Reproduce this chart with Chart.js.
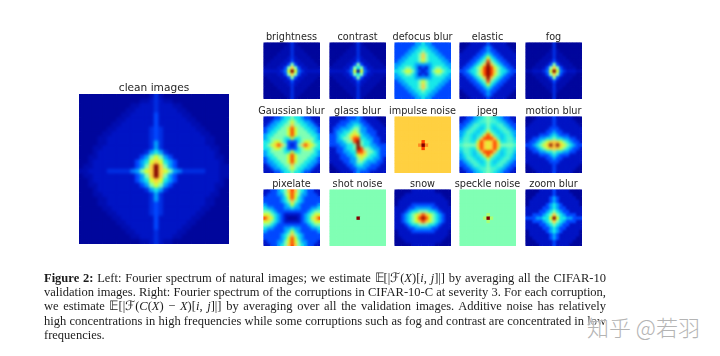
<!DOCTYPE html>
<html>
<head>
<meta charset="utf-8">
<script src="https://cdn.jsdelivr.net/npm/chart.js@4"></script>
<style>
  html, body { margin: 0; padding: 0; background: #fff; }
  #page { position: relative; width: 720px; height: 356px; overflow: hidden; }
  canvas { position: absolute; }
  .line { position: absolute; left: 44px; width: 562px; white-space: nowrap; font: 12.5px/14px "Liberation Serif", serif; color: #1c1c1c; text-align: justify; text-align-last: justify; filter: blur(0.3px); }
  .line.last { text-align-last: left; }
  #mark { position: absolute; left: 587px; top: 313px; font: 300 22px/26px "Noto Sans CJK SC", sans-serif; color: #b4b4b4; white-space: nowrap; text-shadow: 0 0 2px #fff, 0 0 2px #fff; }
</style>
</head>
<body>
<div id="page">
  <div class="line" style="top:271px"><b>Figure 2:</b> Left: Fourier spectrum of natural images; we estimate 𝔼[|ℱ(<i>X</i>)[<i>i</i>, <i>j</i>]|] by averaging all the CIFAR-10</div>
  <div class="line" style="top:285px">validation images. Right: Fourier spectrum of the corruptions in CIFAR-10-C at severity 3. For each corruption,</div>
  <div class="line" style="top:299px">we estimate 𝔼[|ℱ(<i>C</i>(<i>X</i>) − <i>X</i>)[<i>i</i>, <i>j</i>]|] by averaging over all the validation images. Additive noise has relatively</div>
  <div class="line" style="top:314px">high concentrations in high frequencies while some corruptions such as fog and contrast are concentrated in low</div>
  <div class="line last" style="top:328px">frequencies.</div>
  <div id="mark">知乎 @若羽</div>
</div>
<script>
// colour at each whole level 0-9 (jet-like), in-between values are mixed
const levelColors = [[0,6,156],[0,20,196],[0,72,255],[0,160,255],[24,232,232],[128,255,180],[216,255,48],[255,208,64],[255,64,0],[128,0,0]];

const clean = [
[0,0,0,0,0,0,0,0,0,0,0,0,0,0,0,.5,1.5,.5,0,0,0,0,0,0,0,0,0,0,0,0,0,0],
[0,0,0,0,0,0,0,0,0,0,0,0,0,.5,.5,1,1.5,1,.5,.5,0,0,0,0,0,0,0,0,0,0,0,0],
[0,0,0,0,0,0,0,0,0,0,0,.5,.5,1,1,1,1.5,1,1,1,.5,.5,0,0,0,0,0,0,0,0,0,0],
[0,0,0,0,0,0,0,0,0,0,.5,.5,1,1,1,1,1.5,1,1,1,1,.5,.5,0,0,0,0,0,0,0,0,0],
[0,0,0,0,0,0,0,0,0,.5,.5,1,1,1,1,1,2,1,1,1,1,1,.5,.5,0,0,0,0,0,0,0,0],
[0,0,0,0,0,0,0,0,.5,.5,1,1,1,1,1,1,2,1,1,1,1,1,1,.5,.5,0,0,0,0,0,0,0],
[0,0,0,0,0,0,0,.5,.5,1,1,1,1,1,1,1,2,1,1,1,1,1,1,1,.5,.5,0,0,0,0,0,0],
[0,0,0,0,0,0,.5,.5,1,1,1,1,1,1,1,1.5,2,1.5,1,1,1,1,1,1,1,.5,.5,0,0,0,0,0],
[0,0,0,0,0,.5,.5,1,1,1,1,1,1,1,1,1.5,2,1.5,1,1,1,1,1,1,1,1,.5,.5,0,0,0,0],
[0,0,0,0,.5,.5,1,1,1,1,1,1,1,1,1,1.5,2,1.5,1,1,1,1,1,1,1,1,1,.5,.5,0,0,0],
[0,0,0,0,.5,.5,1,1,1,1,1,1,1,1,1,1.5,3,1.5,1,1,1,1,1,1,1,1,1,.5,.5,0,0,0],
[0,0,0,.5,.5,1,1,1,1,1,1,1,1,1,1,1.5,3,1.5,1,1,1,1,1,1,1,1,1,1,.5,.5,0,0],
[0,0,0,.5,1,1,1,1,1,1,1,1,1,1,1.5,3,4,3,1.5,1,1,1,1,1,1,1,1,1,1,.5,0,0],
[0,0,.5,.5,1,1,1,1,1,1,1,1,1,2,3,5,6,5,3,2,1,1,1,1,1,1,1,1,1,.5,.5,0],
[0,0,.5,1,1,1,1,1,1,1,1,1,2,3,4,6,7,6,4,3,2,1,1,1,1,1,1,1,1,1,.5,0],
[0,.5,.5,1,1,1,1,1,1,1,1,1,2,3,5,7,9,7,5,3,2,1,1,1,1,1,1,1,1,1,.5,.5],
[.5,.5,1,1,1,1,1.5,1.5,1.5,1.5,1.5,2.5,3,5,6,7,9,7,6,5,3,2.5,1.5,1.5,1.5,1.5,1.5,1,1,1,.5,.5],
[0,.5,.5,1,1,1,1,1,1,1,1,1,2,3,5,7,9,7,5,3,2,1,1,1,1,1,1,1,1,1,.5,.5],
[0,0,.5,1,1,1,1,1,1,1,1,1,2,3,4,6,7,6,4,3,2,1,1,1,1,1,1,1,1,1,.5,0],
[0,0,.5,.5,1,1,1,1,1,1,1,1,1,2,3,5,6,5,3,2,1,1,1,1,1,1,1,1,1,.5,.5,0],
[0,0,0,.5,1,1,1,1,1,1,1,1,1,1,1.5,3,4,3,1.5,1,1,1,1,1,1,1,1,1,1,.5,0,0],
[0,0,0,.5,.5,1,1,1,1,1,1,1,1,1,1,1.5,3,1.5,1,1,1,1,1,1,1,1,1,1,.5,.5,0,0],
[0,0,0,0,.5,.5,1,1,1,1,1,1,1,1,1,1.5,3,1.5,1,1,1,1,1,1,1,1,1,.5,.5,0,0,0],
[0,0,0,0,.5,.5,1,1,1,1,1,1,1,1,1,1.5,2,1.5,1,1,1,1,1,1,1,1,1,.5,.5,0,0,0],
[0,0,0,0,0,.5,.5,1,1,1,1,1,1,1,1,1.5,2,1.5,1,1,1,1,1,1,1,1,.5,.5,0,0,0,0],
[0,0,0,0,0,0,.5,.5,1,1,1,1,1,1,1,1.5,2,1.5,1,1,1,1,1,1,1,.5,.5,0,0,0,0,0],
[0,0,0,0,0,0,0,.5,.5,1,1,1,1,1,1,1,2,1,1,1,1,1,1,1,.5,.5,0,0,0,0,0,0],
[0,0,0,0,0,0,0,0,.5,.5,1,1,1,1,1,1,2,1,1,1,1,1,1,.5,.5,0,0,0,0,0,0,0],
[0,0,0,0,0,0,0,0,0,.5,.5,1,1,1,1,1,2,1,1,1,1,1,.5,.5,0,0,0,0,0,0,0,0],
[0,0,0,0,0,0,0,0,0,0,.5,.5,1,1,1,1,1.5,1,1,1,1,.5,.5,0,0,0,0,0,0,0,0,0],
[0,0,0,0,0,0,0,0,0,0,0,.5,.5,1,1,1,1.5,1,1,1,.5,.5,0,0,0,0,0,0,0,0,0,0],
[0,0,0,0,0,0,0,0,0,0,0,0,0,.5,.5,1,1.5,1,.5,.5,0,0,0,0,0,0,0,0,0,0,0,0]];

const brightness = [
[0,0,0,0,0,0,0,.5,1.5,.5,0,0,0,0,0,0,0],
[0,0,0,0,0,0,.5,.5,1.5,.5,.5,0,0,0,0,0,0],
[0,0,0,0,0,.5,.5,.5,1.5,.5,.5,.5,0,0,0,0,0],
[0,0,0,0,.5,.5,.5,.5,1.5,.5,.5,.5,.5,0,0,0,0],
[0,0,0,.5,.5,.5,.5,1,1.5,1,.5,.5,.5,.5,0,0,0],
[0,0,.5,.5,.5,.5,1,1,2,1,1,.5,.5,.5,.5,0,0],
[0,.5,.5,.5,.5,1,1,2,5,2,1,1,.5,.5,.5,.5,0],
[.5,.5,.5,.5,1,1,2,5,7,5,2,1,1,.5,.5,.5,.5],
[1,1,1,1,1,1.5,2.5,6,9,6,2.5,1.5,1,1,1,1,1],
[.5,.5,.5,.5,1,1,2,5,7,5,2,1,1,.5,.5,.5,.5],
[0,.5,.5,.5,.5,1,1,2,5,2,1,1,.5,.5,.5,.5,0],
[0,0,.5,.5,.5,.5,1,1,2,1,1,.5,.5,.5,.5,0,0],
[0,0,0,.5,.5,.5,.5,1,1.5,1,.5,.5,.5,.5,0,0,0],
[0,0,0,0,.5,.5,.5,.5,1.5,.5,.5,.5,.5,0,0,0,0],
[0,0,0,0,0,.5,.5,.5,1.5,.5,.5,.5,0,0,0,0,0],
[0,0,0,0,0,0,.5,.5,1.5,.5,.5,0,0,0,0,0,0],
[0,0,0,0,0,0,0,.5,1.5,.5,0,0,0,0,0,0,0]];

const contrast = [
[0,0,0,0,0,0,0,.5,1.5,.5,0,0,0,0,0,0,0],
[0,0,0,0,0,0,.5,.5,1.5,.5,.5,0,0,0,0,0,0],
[0,0,0,0,0,.5,.5,.5,1.5,.5,.5,.5,0,0,0,0,0],
[0,0,0,0,.5,.5,.5,.5,1.5,.5,.5,.5,.5,0,0,0,0],
[0,0,0,.5,.5,.5,.5,1,1.5,1,.5,.5,.5,.5,0,0,0],
[0,0,.5,.5,.5,.5,1,1,2,1,1,.5,.5,.5,.5,0,0],
[0,.5,.5,.5,.5,1,1,2,5,2,1,1,.5,.5,.5,.5,0],
[.5,.5,.5,.5,1,1,2,5,4,5,2,1,1,.5,.5,.5,.5],
[1,1,1,1,1,1.5,2.5,6,0,6,2.5,1.5,1,1,1,1,1],
[.5,.5,.5,.5,1,1,2,5,4,5,2,1,1,.5,.5,.5,.5],
[0,.5,.5,.5,.5,1,1,2,5,2,1,1,.5,.5,.5,.5,0],
[0,0,.5,.5,.5,.5,1,1,2,1,1,.5,.5,.5,.5,0,0],
[0,0,0,.5,.5,.5,.5,1,1.5,1,.5,.5,.5,.5,0,0,0],
[0,0,0,0,.5,.5,.5,.5,1.5,.5,.5,.5,.5,0,0,0,0],
[0,0,0,0,0,.5,.5,.5,1.5,.5,.5,.5,0,0,0,0,0],
[0,0,0,0,0,0,.5,.5,1.5,.5,.5,0,0,0,0,0,0],
[0,0,0,0,0,0,0,.5,1.5,.5,0,0,0,0,0,0,0]];

const defocus = [
[2,2,2,2,2,2,3,3,4,3,3,2,2,2,2,2,2],
[2,2,2,2,2,3,3,4,4,4,3,3,2,2,2,2,2],
[2,2,2,2,3,3,4,4,5,4,4,3,3,2,2,2,2],
[2,2,2,3,3,4,4,5,7,5,4,4,3,3,2,2,2],
[2,2,3,3,4,4,4,5,7,5,4,4,4,3,3,2,2],
[2,3,3,4,4,4,4,5,6,5,4,4,4,4,3,3,2],
[3,3,4,4,4,4,3,3,3,3,3,4,4,4,4,3,3],
[3,4,4,5,5,4,3,1,2,1,3,4,5,5,4,4,3],
[4,4,5,6,6,5,3,2,1,2,3,5,6,6,5,4,4],
[3,4,4,5,5,4,3,1,2,1,3,4,5,5,4,4,3],
[3,3,4,4,4,4,3,3,3,3,3,4,4,4,4,3,3],
[2,3,3,4,4,4,4,5,6,5,4,4,4,4,3,3,2],
[2,2,3,3,4,4,4,5,7,5,4,4,4,3,3,2,2],
[2,2,2,3,3,4,4,5,7,5,4,4,3,3,2,2,2],
[2,2,2,2,3,3,4,4,5,4,4,3,3,2,2,2,2],
[2,2,2,2,2,3,3,4,4,4,3,3,2,2,2,2,2],
[2,2,2,2,2,2,3,3,4,3,3,2,2,2,2,2,2]];

const elastic = [
[0,0,0,1,1,1,1,1,2,1,1,1,1,1,0,0,0],
[0,0,1,1,1,1,1,2,3,2,1,1,1,1,1,0,0],
[0,1,1,1,1,1,2,2,3,2,2,1,1,1,1,1,0],
[1,1,1,1,1,2,2,3,4,3,2,2,1,1,1,1,1],
[1,1,1,1,2,2,3,4,6,4,3,2,2,1,1,1,1],
[1,1,1,2,2,3,4,5,8,5,4,3,2,2,1,1,1],
[1,1,2,2,3,4,5,7,9,7,5,4,3,2,2,1,1],
[1,2,2,3,4,5,6,8,9,8,6,5,4,3,2,2,1],
[2,2,3,4,4,5,7,8,9,8,7,5,4,4,3,2,2],
[1,2,2,3,4,5,6,8,9,8,6,5,4,3,2,2,1],
[1,1,2,2,3,4,5,7,9,7,5,4,3,2,2,1,1],
[1,1,1,2,2,3,4,5,8,5,4,3,2,2,1,1,1],
[1,1,1,1,2,2,3,4,6,4,3,2,2,1,1,1,1],
[1,1,1,1,1,2,2,3,4,3,2,2,1,1,1,1,1],
[0,1,1,1,1,1,2,2,3,2,2,1,1,1,1,1,0],
[0,0,1,1,1,1,1,2,3,2,1,1,1,1,1,0,0],
[0,0,0,1,1,1,1,1,2,1,1,1,1,1,0,0,0]];

const fog = [
[0,0,0,0,0,0,0,0,1.5,0,0,0,0,0,0,0,0],
[0,0,0,0,0,0,0,0,1.5,0,0,0,0,0,0,0,0],
[0,0,0,0,0,0,0,.5,1.5,.5,0,0,0,0,0,0,0],
[0,0,0,0,0,0,.5,.5,1.5,.5,.5,0,0,0,0,0,0],
[0,0,0,0,0,.5,.5,.5,1.5,.5,.5,.5,0,0,0,0,0],
[0,0,0,0,.5,.5,.5,1,2,1,.5,.5,.5,0,0,0,0],
[0,0,0,.5,.5,.5,1,2,5,2,1,.5,.5,.5,0,0,0],
[0,0,.5,.5,.5,1,2,5,7,5,2,1,.5,.5,.5,0,0],
[.5,.5,1,1,1,1.5,2.5,6,9,6,2.5,1.5,1,1,1,.5,.5],
[0,0,.5,.5,.5,1,2,5,7,5,2,1,.5,.5,.5,0,0],
[0,0,0,.5,.5,.5,1,2,5,2,1,.5,.5,.5,0,0,0],
[0,0,0,0,.5,.5,.5,1,2,1,.5,.5,.5,0,0,0,0],
[0,0,0,0,0,.5,.5,.5,1.5,.5,.5,.5,0,0,0,0,0],
[0,0,0,0,0,0,.5,.5,1.5,.5,.5,0,0,0,0,0,0],
[0,0,0,0,0,0,0,.5,1.5,.5,0,0,0,0,0,0,0],
[0,0,0,0,0,0,0,0,1.5,0,0,0,0,0,0,0,0],
[0,0,0,0,0,0,0,0,1.5,0,0,0,0,0,0,0,0]];

const gaussian = [
[1,1,1,2,2,3,4,4,5,4,4,3,2,2,1,1,1],
[1,1,2,3,3,4,4,5,6,5,4,4,3,3,2,1,1],
[1,2,3,3,4,4,5,5,7,5,5,4,4,3,3,2,1],
[2,3,3,4,4,5,5,6,8,6,5,5,4,4,3,3,2],
[2,3,4,4,5,5,5,6,8,6,5,5,5,4,4,3,2],
[3,4,4,5,5,5,5,6,8,6,5,5,5,5,4,4,3],
[3,4,5,5,5,5,4,4,6,4,4,5,5,5,5,4,3],
[4,4,5,6,6,5,4,2,2,2,4,5,6,6,5,4,4],
[4,5,6,7,8,7,5,2,1,2,5,7,8,7,6,5,4],
[4,4,5,6,6,5,4,2,2,2,4,5,6,6,5,4,4],
[3,4,5,5,5,5,4,4,6,4,4,5,5,5,5,4,3],
[3,4,4,5,5,5,5,6,8,6,5,5,5,5,4,4,3],
[2,3,4,4,5,5,5,6,8,6,5,5,5,4,4,3,2],
[2,3,3,4,4,5,5,6,8,6,5,5,4,4,3,3,2],
[1,2,3,3,4,4,5,5,7,5,5,4,4,3,3,2,1],
[1,1,2,3,3,4,4,5,6,5,4,4,3,3,2,1,1],
[1,1,1,2,2,3,4,4,5,4,4,3,2,2,1,1,1]];

const glass = [
[1,1,1,1,1,2,2,2,3,2,1,1,1,1,0,0,0],
[1,1,1,2,2,2,3,3,3,2,2,1,1,1,1,0,0],
[1,1,2,2,2,3,3,4,4,3,2,2,1,1,1,1,0],
[1,2,2,3,3,3,4,5,5,3,3,2,2,1,1,1,1],
[1,2,3,3,4,4,5,6,5,3,3,2,2,2,1,1,1],
[2,2,3,4,4,5,6,7,6,4,3,3,2,2,1,1,1],
[2,2,3,4,5,5,7,8,8,4,4,3,3,2,2,1,1],
[2,2,3,3,4,5,5,8,9,5,4,4,3,2,2,1,1],
[2,2,2,3,3,4,4,5,9,5,4,4,3,3,2,2,2],
[1,1,2,2,3,4,4,5,9,8,5,5,4,3,3,2,2],
[1,1,2,2,3,3,4,4,8,8,7,5,5,4,3,2,2],
[1,1,1,2,2,3,3,4,6,7,6,5,4,4,3,2,2],
[1,1,1,2,2,2,3,3,5,6,5,4,4,3,3,2,1],
[1,1,1,1,2,2,3,3,5,5,4,3,3,3,2,2,1],
[0,1,1,1,1,2,2,3,4,4,3,3,2,2,2,1,1],
[0,0,1,1,1,1,2,2,3,3,3,2,2,2,1,1,1],
[0,0,0,1,1,1,1,2,3,2,2,2,1,1,1,1,1]];

const impulse = [
[7,7,7,7,7,7,7,7,7,7,7,7,7,7,7,7,7],
[7,7,7,7,7,7,7,7,7,7,7,7,7,7,7,7,7],
[7,7,7,7,7,7,7,7,7,7,7,7,7,7,7,7,7],
[7,7,7,7,7,7,7,7,7,7,7,7,7,7,7,7,7],
[7,7,7,7,7,7,7,7,7,7,7,7,7,7,7,7,7],
[7,7,7,7,7,7,7,7,7,7,7,7,7,7,7,7,7],
[7,7,7,7,7,7,7,7,7,7,7,7,7,7,7,7,7],
[7,7,7,7,7,7,7,7,8,7,7,7,7,7,7,7,7],
[7,7,7,7,7,7,7,7.5,9,7.5,7,7,7,7,7,7,7],
[7,7,7,7,7,7,7,7,8,7,7,7,7,7,7,7,7],
[7,7,7,7,7,7,7,7,7,7,7,7,7,7,7,7,7],
[7,7,7,7,7,7,7,7,7,7,7,7,7,7,7,7,7],
[7,7,7,7,7,7,7,7,7,7,7,7,7,7,7,7,7],
[7,7,7,7,7,7,7,7,7,7,7,7,7,7,7,7,7],
[7,7,7,7,7,7,7,7,7,7,7,7,7,7,7,7,7],
[7,7,7,7,7,7,7,7,7,7,7,7,7,7,7,7,7],
[7,7,7,7,7,7,7,7,7,7,7,7,7,7,7,7,7]];

const jpeg = [
[1,1,2,2,3,3.5,4,4.5,5,4.5,4,3.5,3,2,2,1,1],
[1,2,2,3,3.5,4,4.5,4.5,5,4.5,4.5,4,3.5,3,2,2,1],
[2,2,3,3.5,4.5,4.5,4,4,5,4,4,4.5,4.5,3.5,3,2,2],
[2,3,3.5,4.5,4.5,4,3.5,4,5,4,3.5,4,4.5,4.5,3.5,3,2],
[3,3.5,4.5,4.5,4,3.5,4,4.5,6,4.5,4,3.5,4,4.5,4.5,3.5,3],
[3,4,4.5,4,3.5,4,4.5,6.5,8,6.5,4.5,4,3.5,4,4.5,4,3],
[3.5,4.5,4.5,4,3.5,4.5,7,8,8,8,7,4.5,3.5,4,4.5,4.5,3.5],
[4,4.5,4.5,4,4,6,8,7,6,7,8,6,4,4,4.5,4.5,4],
[4.5,5,5,5,5,7,8,7,6.5,7,8,7,5,5,5,5,4.5],
[4,4.5,4.5,4,4,6,8,7,6,7,8,6,4,4,4.5,4.5,4],
[3.5,4.5,4.5,4,3.5,4.5,7,8,8,8,7,4.5,3.5,4,4.5,4.5,3.5],
[3,4,4.5,4,3.5,4,4.5,6.5,8,6.5,4.5,4,3.5,4,4.5,4,3],
[3,3.5,4.5,4.5,4,3.5,4,4.5,6,4.5,4,3.5,4,4.5,4.5,3.5,3],
[2,3,3.5,4.5,4.5,4,3.5,4,5,4,3.5,4,4.5,4.5,3.5,3,2],
[2,2,3,3.5,4.5,4.5,4,4,5,4,4,4.5,4.5,3.5,3,2,2],
[1,2,2,3,3.5,4,4.5,4.5,5,4.5,4.5,4,3.5,3,2,2,1],
[1,1,2,2,3,3.5,4,4.5,5,4.5,4,3.5,3,2,2,1,1]];

const motion = [
[0,0,0,1,1,1,1,1,2,1,1,1,1,1,0,0,0],
[0,0,1,1,1,1,1,1,2,1,1,1,1,1,1,0,0],
[0,1,1,1,1,1,1,1,2,1,1,1,1,1,1,1,0],
[1,1,1,1,1,1,1,2,2,2,1,1,1,1,1,1,1],
[1,1,1,1,1,1,2,2,3,2,2,1,1,1,1,1,1],
[1,1,1,1,2,2,2,3,4,3,2,2,2,1,1,1,1],
[1,1,2,2,3,3,4,4,5,4,4,3,3,2,2,1,1],
[1,2,2,3,4,5,6,7,7,7,6,5,4,3,2,2,1],
[2,2,3,4,5,6,7,9,7,9,7,6,5,4,3,2,2],
[1,2,2,3,4,5,6,7,7,7,6,5,4,3,2,2,1],
[1,1,2,2,3,3,4,4,5,4,4,3,3,2,2,1,1],
[1,1,1,1,2,2,2,3,4,3,2,2,2,1,1,1,1],
[1,1,1,1,1,1,2,2,3,2,2,1,1,1,1,1,1],
[1,1,1,1,1,1,1,2,2,2,1,1,1,1,1,1,1],
[0,1,1,1,1,1,1,1,2,1,1,1,1,1,1,1,0],
[0,0,1,1,1,1,1,1,2,1,1,1,1,1,1,0,0],
[0,0,0,1,1,1,1,1,2,1,1,1,1,1,0,0,0]];

const pixelate = [
[1,1,2,2,3,4,5,7,8,7,5,4,3,2,2,1,1],
[1,2,2,2,3,3,5,6,8,6,5,3,3,2,2,2,1],
[2,2,2,2,2,3,4,6,8,6,4,3,2,2,2,2,2],
[2,2,2,2,2,3,4,5,7,5,4,3,2,2,2,2,2],
[3,2,2,2,2,2,3,4,6,4,3,2,2,2,2,2,3],
[4,3,3,2,2,2,3,3,4,3,3,2,2,2,3,3,4],
[5,5,4,3,2,2,2,2,2,2,2,2,2,3,4,5,5],
[6,6,5,4,3,2,1,1,1,1,1,2,3,4,5,6,6],
[8,7,6,4,3,2,1,0,0,0,1,2,3,4,6,7,8],
[6,6,5,4,3,2,1,1,1,1,1,2,3,4,5,6,6],
[5,5,4,3,2,2,2,2,2,2,2,2,2,3,4,5,5],
[4,3,3,2,2,2,3,3,4,3,3,2,2,2,3,3,4],
[3,2,2,2,2,2,3,4,6,4,3,2,2,2,2,2,3],
[2,2,2,2,2,3,4,5,7,5,4,3,2,2,2,2,2],
[2,2,2,2,2,3,4,6,8,6,4,3,2,2,2,2,2],
[1,2,2,2,3,3,5,6,8,6,5,3,3,2,2,2,1],
[1,1,2,2,3,4,5,7,8,7,5,4,3,2,2,1,1]];

const shot = [
[5,5,5,5,5,5,5,5,5,5,5,5,5,5,5,5,5],
[5,5,5,5,5,5,5,5,5,5,5,5,5,5,5,5,5],
[5,5,5,5,5,5,5,5,5,5,5,5,5,5,5,5,5],
[5,5,5,5,5,5,5,5,5,5,5,5,5,5,5,5,5],
[5,5,5,5,5,5,5,5,5,5,5,5,5,5,5,5,5],
[5,5,5,5,5,5,5,5,5,5,5,5,5,5,5,5,5],
[5,5,5,5,5,5,5,5,5,5,5,5,5,5,5,5,5],
[5,5,5,5,5,5,5,5,5,5,5,5,5,5,5,5,5],
[5,5,5,5,5,5,5,5,9,5,5,5,5,5,5,5,5],
[5,5,5,5,5,5,5,5,5,5,5,5,5,5,5,5,5],
[5,5,5,5,5,5,5,5,5,5,5,5,5,5,5,5,5],
[5,5,5,5,5,5,5,5,5,5,5,5,5,5,5,5,5],
[5,5,5,5,5,5,5,5,5,5,5,5,5,5,5,5,5],
[5,5,5,5,5,5,5,5,5,5,5,5,5,5,5,5,5],
[5,5,5,5,5,5,5,5,5,5,5,5,5,5,5,5,5],
[5,5,5,5,5,5,5,5,5,5,5,5,5,5,5,5,5],
[5,5,5,5,5,5,5,5,5,5,5,5,5,5,5,5,5]];

const snow = [
[0,0,0,0,0,1,1,1,1,1,1,1,0,0,0,0,0],
[0,0,0,1,1,1,1,1,1,1,1,1,1,1,0,0,0],
[0,0,1,1,1,1,1,1,1,1,1,1,1,1,1,0,0],
[0,1,1,1,1,1,1,1,1,1,1,1,1,1,1,1,0],
[0,1,1,1,1,2,2,2,2,2,2,2,1,1,1,1,0],
[1,1,1,1,2,2,3,3,3,3,3,2,2,1,1,1,1],
[1,1,1,2,3,4,4,5,5,5,4,4,3,2,1,1,1],
[1,1,2,3,4,5,6,7,8,7,6,5,4,3,2,1,1],
[1,1,2,3,4,5,6,8,9,8,6,5,4,3,2,1,1],
[1,1,2,3,4,5,6,7,8,7,6,5,4,3,2,1,1],
[1,1,1,2,3,4,4,5,5,5,4,4,3,2,1,1,1],
[1,1,1,1,2,2,3,3,3,3,3,2,2,1,1,1,1],
[0,1,1,1,1,2,2,2,2,2,2,2,1,1,1,1,0],
[0,1,1,1,1,1,1,1,1,1,1,1,1,1,1,1,0],
[0,0,1,1,1,1,1,1,1,1,1,1,1,1,1,0,0],
[0,0,0,1,1,1,1,1,1,1,1,1,1,1,0,0,0],
[0,0,0,0,0,1,1,1,1,1,1,1,0,0,0,0,0]];

const speckle = [
[5,5,5,5,5,5,5,5,5,5,5,5,5,5,5,5,5],
[5,5,5,5,5,5,5,5,5,5,5,5,5,5,5,5,5],
[5,5,5,5,5,5,5,5,5,5,5,5,5,5,5,5,5],
[5,5,5,5,5,5,5,5,5,5,5,5,5,5,5,5,5],
[5,5,5,5,5,5,5,5,5,5,5,5,5,5,5,5,5],
[5,5,5,5,5,5,5,5,5,5,5,5,5,5,5,5,5],
[5,5,5,5,5,5,5,5,5,5,5,5,5,5,5,5,5],
[5,5,5,5,5,5,5,5,5.5,5,5,5,5,5,5,5,5],
[5,5,5,5,5,5,5,5.5,9,5.5,5,5,5,5,5,5,5],
[5,5,5,5,5,5,5,5,5.5,5,5,5,5,5,5,5,5],
[5,5,5,5,5,5,5,5,5,5,5,5,5,5,5,5,5],
[5,5,5,5,5,5,5,5,5,5,5,5,5,5,5,5,5],
[5,5,5,5,5,5,5,5,5,5,5,5,5,5,5,5,5],
[5,5,5,5,5,5,5,5,5,5,5,5,5,5,5,5,5],
[5,5,5,5,5,5,5,5,5,5,5,5,5,5,5,5,5],
[5,5,5,5,5,5,5,5,5,5,5,5,5,5,5,5,5],
[5,5,5,5,5,5,5,5,5,5,5,5,5,5,5,5,5]];

const zoomBlur = [
[0,0,0,0,1,1,1,1,2,1,1,1,1,0,0,0,0],
[0,0,0,1,1,1,1,1,2,1,1,1,1,1,0,0,0],
[0,0,1,1,1,1,1,2,3,2,1,1,1,1,1,0,0],
[0,1,1,1,1,1,1,2,3,2,1,1,1,1,1,1,0],
[0,1,1,1,1,1,2,3,4,3,2,1,1,1,1,1,0],
[1,1,1,1,1,2,2,3,4,3,2,2,1,1,1,1,1],
[1,1,1,1,2,2,3,4,5,4,3,2,2,1,1,1,1],
[1,1,2,2,2,3,4,5,7,5,4,3,2,2,2,1,1],
[2,2,2,3,3,4,4,6,9,6,4,4,3,3,2,2,2],
[1,1,2,2,2,3,4,5,7,5,4,3,2,2,2,1,1],
[1,1,1,1,2,2,3,4,5,4,3,2,2,1,1,1,1],
[1,1,1,1,1,2,2,3,4,3,2,2,1,1,1,1,1],
[0,1,1,1,1,1,2,3,4,3,2,1,1,1,1,1,0],
[0,1,1,1,1,1,1,2,3,2,1,1,1,1,1,1,0],
[0,0,1,1,1,1,1,2,3,2,1,1,1,1,1,0,0],
[0,0,0,1,1,1,1,1,2,1,1,1,1,1,0,0,0],
[0,0,0,0,1,1,1,1,2,1,1,1,1,0,0,0,0]];

const smallTitles = ["brightness","contrast","defocus blur","elastic","fog","Gaussian blur","glass blur","impulse noise","jpeg","motion blur","pixelate","shot noise","snow","speckle noise","zoom blur"];
const smallGrids = [brightness,contrast,defocus,elastic,fog,gaussian,glass,impulse,jpeg,motion,pixelate,shot,snow,speckle,zoomBlur];
const smallBlurs = [1,1,1.5,1.5,1,1.5,1.5,.6,1.4,1.5,1.5,.5,1.5,.5,1.3];
const colLefts = [263,329,394,459,525];
const rowTops = [42,116,189];

const levelColor = (v) => {
  const lo = Math.floor(v);
  const hi = Math.min(lo + 1, levelColors.length - 1);
  const t = v - lo;
  const mix = levelColors[lo].map((c, i) => Math.round(c + (levelColors[hi][i] - c) * t));
  return `rgb(${mix.join(",")})`;
};

// blurs the cells together, the source image is a soft screenshot
const softenPlugin = {
  id: "soften",
  afterDatasetsDraw(chart, args, opts) {
    const { left, top, width, height } = chart.chartArea;
    const ctx = chart.ctx;
    ctx.save();
    ctx.beginPath();
    ctx.rect(left + opts.inset, top, width - opts.inset * 2, height);
    ctx.clip();
    ctx.filter = `blur(${opts.radius}px)`;
    ctx.drawImage(chart.canvas, 0, 0);
    ctx.restore();
  }
};

const page = document.getElementById("page");

const addPanel = (title, grid, left, top, size, fontSize, blur, shift) => {
  const side = 8; // room for titles wider than the panel
  const lineHeight = Math.round(fontSize * 1.2);
  const head = lineHeight - 1;
  const canvas = document.createElement("canvas");
  canvas.width = size + side * 2;
  canvas.height = size + head;
  canvas.style.left = (left - side) + "px";
  canvas.style.top = (top - head) + "px";
  page.appendChild(canvas);

  const n = grid.length;
  const cell = size / n;
  const points = [];
  const colors = [];
  grid.forEach((row, r) => row.forEach((v, c) => {
    points.push({ x: c, y: r });
    colors.push(levelColor(v));
  }));

  new Chart(canvas, {
    type: "scatter",
    data: { datasets: [{ data: points, backgroundColor: colors, borderWidth: 0, pointStyle: "rect", pointRadius: cell * Math.SQRT1_2 * 1.1, clip: { left: -side, right: -side, top: 0, bottom: 0 } }] },
    options: {
      responsive: false,
      animation: false,
      events: [],
      layout: { autoPadding: false },
      plugins: {
        legend: { display: false },
        tooltip: { enabled: false },
        soften: { radius: blur, inset: side },
        title: {
          display: true,
          text: title,
          color: "#262626",
          padding: { top: 0, bottom: -1 },
          font: { family: "DejaVu Sans", size: fontSize, weight: "normal", lineHeight: lineHeight + "px" }
        }
      },
      scales: {
        x: { display: false, min: -0.5 - shift - side / cell, max: n - 0.5 - shift + side / cell },
        y: { display: false, reverse: true, min: -0.5 - shift, max: n - 0.5 - shift }
      }
    },
    plugins: [softenPlugin]
  });
};

addPanel("clean images", clean, 79, 94, 150, 10.6, 1.8, 0);
smallTitles.forEach((title, i) => {
  addPanel(title, smallGrids[i], colLefts[i % 5], rowTops[Math.floor(i / 5)], 57, 9.7, smallBlurs[i], 0.25);
});
</script>
</body>
</html>
